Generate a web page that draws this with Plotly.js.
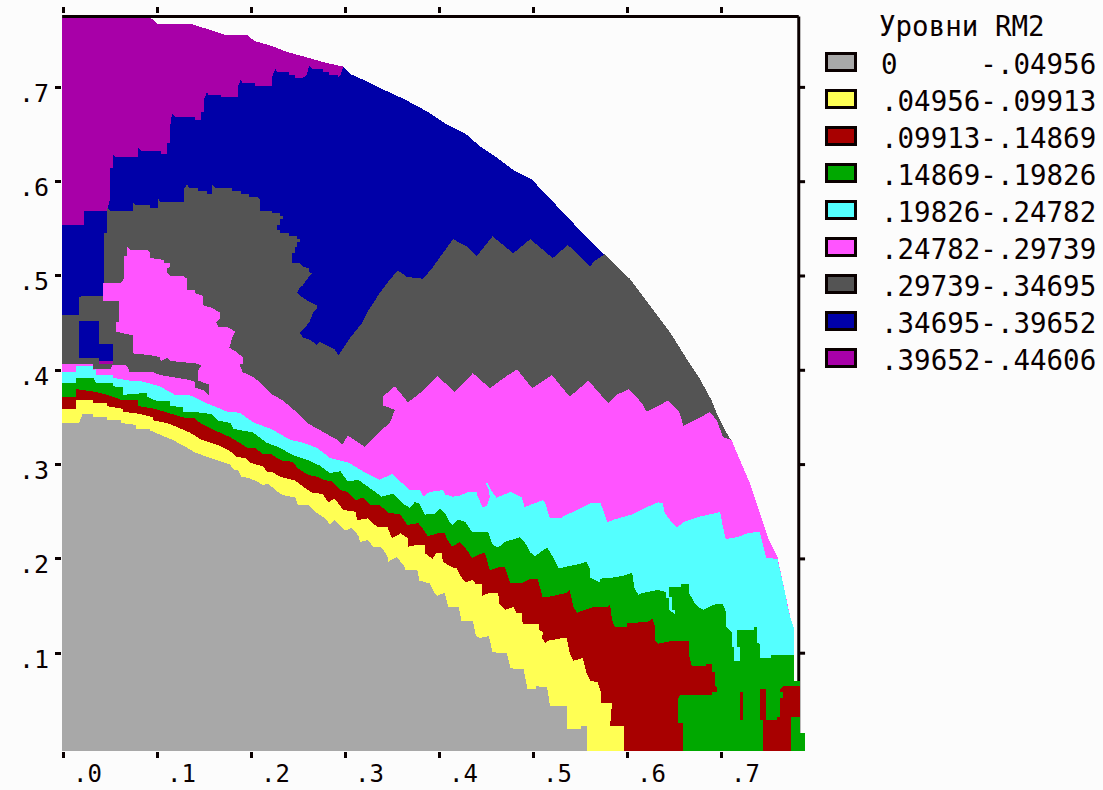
<!DOCTYPE html>
<html><head><meta charset="utf-8">
<script src="https://cdn.plot.ly/plotly-3.0.1.min.js"></script>
<style>html,body{margin:0;padding:0;background:#fcfcfc}
.js-fill{shape-rendering:crispEdges}
</style></head>
<body><div id="chart" style="width:1103px;height:790px"></div>
<script>
// Outer rim of the domain (x, y)
const rim = [[-.001,.774],[.093,.774],[.101,.767],[.137,.767],[.153,.762],[.171,.756],[.195,.756],[.204,.749],[.222,.744],[.237,.738],[.262,.731],[.280,.726],[.298,.722],[.306,.714],[.324,.706],[.340,.698],[.364,.687],[.388,.674],[.406,.662],[.428,.651],[.443,.638],[.461,.626],[.481,.611],[.499,.602],[.512,.588],[.526,.574],[.539,.560],[.556,.542],[.576,.523],[.603,.497],[.624,.469],[.646,.440],[.666,.408],[.678,.390],[.690,.368],[.696,.353],[.705,.335],[.712,.324],[.720,.305],[.730,.282],[.738,.259],[.745,.238],[.751,.220],[.760,.202],[.763,.188],[.766,.174],[.769,.160],[.771,.149],[.774,.137],[.778,.125],[.778,.090],[.778,.071],[.784,.071],[.784,.015],[.789,.015],[.789,-.004]];

// Level boundaries (x, y)
const blueEdge = [[-.001,.554],[.022,.554],[.022,.569],[.047,.569],[.050,.582],[.050,.615],[.053,.615],[.053,.629],[.056,.626],[.080,.626],[.080,.636],[.083,.633],[.104,.633],[.104,.629],[.111,.629],[.111,.641],[.114,.641],[.114,.659],[.116,.672],[.119,.669],[.140,.669],[.140,.665],[.147,.665],[.147,.674],[.150,.674],[.150,.687],[.153,.695],[.155,.692],[.168,.692],[.168,.690],[.186,.690],[.186,.701],[.189,.708],[.191,.705],[.204,.705],[.204,.701],[.222,.701],[.222,.710],[.226,.720],[.228,.716],[.240,.716],[.240,.713],[.247,.713],[.247,.710],[.255,.710],[.259,.713],[.262,.723],[.265,.720],[.277,.720],[.277,.716],[.283,.716],[.283,.713],[.292,.713],[.292,.710],[.295,.713],[.298,.720]];

const darkEdge = [[-.001,.459],[.017,.459],[.017,.477],[.020,.479],[.044,.479],[.044,.517],[.044,.546],[.047,.546],[.047,.572],[.050,.569],[.074,.569],[.074,.578],[.078,.575],[.093,.575],[.093,.572],[.101,.572],[.101,.582],[.104,.578],[.129,.578],[.129,.593],[.132,.597],[.134,.593],[.144,.593],[.144,.590],[.153,.590],[.153,.587],[.159,.587],[.159,.597],[.162,.593],[.180,.593],[.180,.590],[.189,.590],[.189,.587],[.198,.587],[.198,.584],[.207,.584],[.210,.581],[.210,.569],[.222,.569],[.222,.567],[.231,.567],[.231,.564],[.234,.564],[.234,.560],[.231,.560],[.231,.554],[.228,.554],[.228,.549],[.231,.549],[.231,.546],[.240,.546],[.240,.542],[.249,.542],[.249,.539],[.252,.539],[.252,.536],[.249,.536],[.249,.531],[.247,.531],[.247,.524],[.244,.524],[.244,.514],[.252,.514],[.255,.510],[.262,.508],[.262,.504],[.265,.503],[.260,.497],[.255,.490],[.252,.488],[.249,.482],[.255,.477],[.263,.472],[.270,.469],[.270,.465],[.266,.461],[.262,.451],[.257,.445],[.252,.440],[.255,.435],[.263,.432],[.270,.427],[.273,.430],[.281,.426],[.289,.422],[.293,.416],[.298,.424],[.305,.434],[.318,.450],[.324,.462],[.337,.482],[.346,.494],[.356,.506],[.366,.499],[.383,.497],[.394,.510],[.401,.520],[.415,.539],[.430,.531],[.440,.521],[.457,.542],[.479,.524],[.497,.539],[.521,.519],[.537,.533],[.561,.510],[.564,.515]];

const pinkEdge = [[-.001,.407],[.032,.407],[.032,.401],[.050,.401],[.053,.406],[.068,.405],[.071,.398],[.096,.398],[.103,.395],[.117,.393],[.133,.390],[.140,.388],[.140,.382],[.149,.379],[.155,.374],[.155,.385],[.144,.389],[.144,.400],[.147,.405],[.143,.407],[.114,.410],[.111,.413],[.104,.410],[.103,.414],[.093,.416],[.074,.418],[.074,.437],[.056,.441],[.056,.451],[.060,.451],[.060,.473],[.042,.473],[.042,.493],[.062,.493],[.065,.498],[.065,.521],[.068,.521],[.068,.531],[.071,.528],[.089,.528],[.093,.524],[.093,.519],[.107,.517],[.107,.514],[.114,.514],[.114,.510],[.111,.508],[.111,.503],[.115,.500],[.128,.500],[.132,.497],[.132,.485],[.140,.485],[.140,.482],[.149,.479],[.149,.469],[.159,.466],[.167,.461],[.167,.455],[.163,.451],[.165,.446],[.175,.446],[.183,.441],[.180,.435],[.177,.424],[.185,.419],[.191,.414],[.191,.407],[.188,.406],[.191,.398],[.202,.393],[.210,.387],[.223,.374],[.234,.368],[.249,.355],[.260,.344],[.277,.334],[.292,.326],[.297,.321],[.303,.331],[.316,.322],[.321,.319],[.330,.328],[.348,.345],[.353,.358],[.340,.363],[.340,.372],[.353,.383],[.367,.366],[.380,.376],[.398,.394],[.417,.377],[.436,.397],[.454,.381],[.472,.394],[.483,.401],[.499,.381],[.520,.395],[.539,.372],[.559,.389],[.580,.365],[.589,.374],[.602,.380],[.616,.365],[.621,.356],[.633,.362],[.644,.368],[.656,.355],[.660,.341],[.678,.350],[.688,.356],[.696,.346],[.702,.329],[.712,.326]];

const cyanEdge = [[-.001,.398],[.014,.398],[.014,.405],[.032,.405],[.032,.400],[.035,.401],[.035,.395],[.053,.395],[.053,.392],[.071,.389],[.085,.388],[.103,.383],[.119,.374],[.134,.374],[.153,.365],[.175,.356],[.188,.355],[.202,.345],[.223,.337],[.242,.326],[.252,.324],[.270,.318],[.284,.307],[.304,.302],[.324,.290],[.334,.286],[.337,.284],[.350,.290],[.361,.280],[.369,.273],[.380,.273],[.383,.266],[.390,.271],[.404,.273],[.407,.268],[.415,.266],[.422,.267],[.431,.271],[.440,.271],[.441,.267],[.446,.255],[.451,.256],[.454,.266],[.453,.273],[.450,.280],[.452,.280],[.456,.272],[.461,.265],[.476,.271],[.488,.265],[.491,.255],[.510,.262],[.513,.259],[.518,.243],[.529,.243],[.536,.247],[.543,.250],[.561,.259],[.572,.259],[.576,.247],[.579,.239],[.587,.242],[.605,.247],[.619,.254],[.633,.260],[.638,.259],[.640,.249],[.648,.238],[.653,.233],[.660,.239],[.678,.245],[.696,.249],[.699,.250],[.702,.234],[.705,.221],[.717,.223],[.728,.227],[.741,.229],[.745,.213],[.748,.201],[.760,.200]];

const greenEdge = [[-.001,.387],[.014,.387],[.014,.392],[.032,.392],[.035,.387],[.053,.387],[.053,.383],[.064,.382],[.064,.374],[.089,.376],[.089,.372],[.098,.368],[.114,.367],[.114,.362],[.128,.361],[.128,.356],[.149,.355],[.159,.353],[.164,.347],[.178,.344],[.181,.338],[.202,.334],[.217,.323],[.228,.319],[.245,.310],[.260,.305],[.273,.299],[.284,.291],[.295,.293],[.303,.282],[.314,.284],[.330,.273],[.339,.266],[.351,.269],[.361,.259],[.369,.254],[.374,.260],[.379,.259],[.385,.247],[.396,.248],[.401,.254],[.406,.249],[.410,.241],[.414,.236],[.420,.242],[.428,.239],[.435,.229],[.452,.229],[.457,.215],[.463,.212],[.470,.218],[.486,.223],[.491,.218],[.497,.207],[.502,.203],[.515,.212],[.523,.199],[.527,.190],[.547,.194],[.557,.197],[.561,.188],[.561,.180],[.571,.175],[.571,.179],[.584,.180],[.595,.182],[.605,.185],[.605,.188],[.608,.169],[.612,.162],[.617,.164],[.633,.167],[.641,.165],[.641,.159],[.645,.159],[.645,.146],[.651,.141],[.651,.146],[.648,.146],[.648,.160],[.645,.160],[.645,.170],[.657,.170],[.657,.173],[.666,.173],[.666,.164],[.672,.153],[.676,.149],[.681,.146],[.694,.152],[.702,.152],[.705,.144],[.705,.128],[.712,.122],[.712,.107],[.714,.107],[.714,.092],[.720,.092],[.720,.107],[.717,.107],[.717,.125],[.735,.125],[.735,.128],[.738,.128],[.738,.111],[.741,.110],[.741,.095],[.753,.095],[.753,.098],[.778,.098]];

const redEdge = [[-.001,.372],[.014,.372],[.014,.380],[.035,.377],[.047,.374],[.064,.368],[.080,.368],[.080,.362],[.098,.359],[.111,.355],[.128,.350],[.140,.349],[.146,.344],[.160,.337],[.178,.329],[.196,.318],[.204,.318],[.213,.311],[.222,.311],[.226,.308],[.234,.304],[.244,.303],[.250,.296],[.261,.289],[.271,.287],[.277,.284],[.286,.282],[.295,.273],[.303,.271],[.311,.262],[.319,.265],[.327,.257],[.337,.257],[.346,.249],[.359,.247],[.366,.236],[.378,.238],[.385,.229],[.388,.224],[.398,.227],[.406,.227],[.409,.220],[.414,.213],[.422,.218],[.430,.209],[.435,.201],[.446,.206],[.449,.206],[.454,.188],[.463,.191],[.470,.191],[.476,.174],[.488,.174],[.497,.179],[.505,.179],[.510,.160],[.518,.160],[.536,.164],[.539,.167],[.543,.149],[.547,.143],[.564,.149],[.579,.149],[.582,.152],[.584,.135],[.587,.128],[.600,.128],[.600,.132],[.622,.133],[.627,.137],[.630,.128],[.630,.113],[.633,.110],[.648,.113],[.666,.113],[.666,.098],[.669,.086],[.684,.086],[.684,.089],[.690,.089],[.690,.080],[.694,.080],[.694,.065],[.696,.064],[.696,.059],[.690,.059],[.690,.056],[.657,.056],[.654,.052],[.654,.026],[.660,.026],[.660,-.004]];

const redBlob = [[.745,-.004],[.745,.029],[.760,.029],[.760,.032],[.763,.032],[.763,.052],[.766,.052],[.766,.059],[.763,.059],[.763,.062],[.766,.065],[.784,.065],[.784,.032],[.774,.032],[.774,-.004]];
const redBarA = [[.720,.059],[.723,.059],[.723,.029],[.720,.029]];
const redBarB = [[.741,.062],[.748,.062],[.748,.029],[.741,.029]];

const yellowEdge = [[-.001,.359],[.014,.359],[.014,.368],[.032,.368],[.032,.365],[.047,.365],[.047,.362],[.064,.359],[.064,.356],[.080,.354],[.096,.350],[.096,.347],[.111,.344],[.124,.339],[.135,.334],[.146,.327],[.167,.320],[.178,.314],[.185,.308],[.194,.307],[.199,.302],[.213,.298],[.217,.292],[.223,.292],[.231,.287],[.239,.285],[.247,.283],[.255,.277],[.265,.270],[.276,.269],[.282,.260],[.289,.264],[.298,.252],[.311,.250],[.313,.241],[.324,.243],[.334,.234],[.345,.234],[.350,.222],[.359,.227],[.367,.222],[.367,.213],[.377,.215],[.385,.215],[.385,.206],[.393,.200],[.397,.206],[.403,.206],[.404,.197],[.414,.191],[.419,.190],[.422,.183],[.428,.175],[.436,.178],[.439,.173],[.446,.173],[.446,.161],[.454,.164],[.463,.164],[.464,.152],[.470,.146],[.479,.149],[.482,.143],[.488,.143],[.489,.131],[.506,.131],[.506,.125],[.511,.122],[.509,.117],[.513,.111],[.515,.113],[.531,.116],[.536,.116],[.539,.100],[.543,.092],[.553,.095],[.557,.079],[.561,.071],[.569,.069],[.572,.059],[.572,.047],[.584,.047],[.582,.023],[.597,.023],[.597,-.004]];

const greyEdge = [[-.001,.344],[.017,.344],[.021,.354],[.032,.354],[.032,.350],[.047,.350],[.047,.347],[.062,.347],[.062,.344],[.078,.342],[.078,.338],[.093,.338],[.093,.336],[.105,.331],[.117,.326],[.130,.319],[.140,.313],[.154,.308],[.178,.300],[.181,.295],[.186,.294],[.190,.287],[.197,.286],[.207,.282],[.213,.278],[.218,.280],[.226,.273],[.233,.268],[.247,.265],[.250,.257],[.261,.257],[.268,.250],[.279,.243],[.284,.236],[.289,.241],[.300,.230],[.307,.233],[.314,.225],[.316,.218],[.324,.220],[.330,.213],[.339,.212],[.345,.203],[.346,.197],[.355,.202],[.364,.191],[.364,.188],[.377,.188],[.379,.177],[.390,.174],[.395,.164],[.398,.161],[.406,.164],[.410,.149],[.421,.149],[.424,.134],[.436,.134],[.439,.119],[.443,.116],[.453,.118],[.457,.101],[.472,.100],[.476,.084],[.490,.083],[.494,.062],[.503,.062],[.503,.065],[.515,.064],[.518,.044],[.536,.044],[.536,.020],[.551,.020],[.551,.023],[.557,.023],[.557,-.004]];

const blueIsland = [[.017,.452],[.038,.452],[.038,.428],[.053,.428],[.053,.410],[.038,.410],[.038,.413],[.017,.413]];
const purpleSliver = [[.038,.410],[.053,.410],[.053,.407],[.038,.407]];

const xTicks = [0,.1,.2,.3,.4,.5,.6,.7];
const xTickText = ['.0','.1','.2','.3','.4','.5','.6','.7'];
const yTicks = [.1,.2,.3,.4,.5,.6,.7];
const yTickText = ['.1','.2','.3','.4','.5','.6','.7'];

const legendTitle = 'Уровни RM2';
const legendLabels = ['0\u00A0\u00A0\u00A0\u00A0\u00A0-.04956','.04956-.09913','.09913-.14869','.14869-.19826','.19826-.24782','.24782-.29739','.29739-.34695','.34695-.39652','.39652-.44606'];
const legendColors = ['#a8a8a8','#ffff54','#a80000','#00a800','#54ffff','#ff54ff','#545454','#0000a8','#a800a8'];

const INK = '#0a0000', BG = '#fcfcfc', FONT = '"DejaVu Sans Mono", monospace';
const W = 1103, H = 790, L = 62, R = 806, T = 14, B = 751;
const corner = [-.001,-.004];
const fromRim = y => rim.slice(rim.findIndex(p => p[1] <= y));
function area(name, color, polys){
  const x = [], y = [];
  polys.forEach((p,i) => { if(i){x.push(null);y.push(null);} p.forEach(q => {x.push(q[0]);y.push(q[1]);}); x.push(p[0][0]); y.push(p[0][1]); });
  return {type:'scatter',mode:'lines',name,x,y,fill:'toself',fillcolor:color,line:{width:0,color},hoverinfo:'name',showlegend:false};
}
const data = [
  area('.39652-.44606', legendColors[8], [[...rim, corner]]),
  area('.34695-.39652', legendColors[7], [[...blueEdge, ...fromRim(.722), corner]]),
  area('.29739-.34695', legendColors[6], [[...darkEdge, ...fromRim(.523), corner]]),
  area('.34695-.39652 (island)', legendColors[7], [blueIsland]),
  area('.39652-.44606 (island)', legendColors[8], [purpleSliver]),
  area('.24782-.29739', legendColors[5], [[...pinkEdge, ...fromRim(.324), corner]]),
  area('.19826-.24782', legendColors[4], [[...cyanEdge, ...fromRim(.188), corner]]),
  area('.14869-.19826', legendColors[3], [[...greenEdge, ...fromRim(.090), corner]]),
  area('.09913-.14869', legendColors[2], [[...redEdge, corner], redBlob, redBarA, redBarB]),
  area('.04956-.09913', legendColors[1], [[...yellowEdge, corner]]),
  area('0-.04956', legendColors[0], [[...greyEdge, corner]])
];

const px = v => (v-L)/(R-L), py = v => (B-v)/(B-T);
const FRAME_X = .7827, FRAME_Y = .7752, TICK_END = .7894;
const shapes = [
  {type:'line',layer:'below',xref:'x',yref:'y',x0:-.001,x1:FRAME_X,y0:FRAME_Y,y1:FRAME_Y,line:{color:INK,width:3}},
  {type:'line',layer:'below',xref:'x',yref:'y',x0:FRAME_X,x1:FRAME_X,y0:-.004,y1:FRAME_Y,line:{color:INK,width:3}},
  ...yTicks.map(v => ({type:'line',layer:'below',xref:'x',yref:'y',x0:FRAME_X,x1:TICK_END,y0:v,y1:v,line:{color:INK,width:3}})),
  ...legendColors.map((c,i) => ({type:'rect',xref:'paper',yref:'paper',x0:px(826.5),x1:px(855.5),y0:py(53.5+37*i),y1:py(70.5+37*i),fillcolor:c,line:{color:INK,width:3}}))
];
const annotations = [
  ...xTicks.map((v,i) => ({xref:'x',yref:'paper',x:v,y:0,xanchor:'center',yanchor:'middle',xshift:24,yshift:-23,text:xTickText[i],showarrow:false,font:{family:FONT,size:24,color:INK}})),
  ...yTicks.map((v,i) => ({xref:'paper',yref:'y',x:0,y:v,xanchor:'right',yanchor:'middle',xshift:-11,yshift:-6,text:yTickText[i],showarrow:false,font:{family:FONT,size:25,color:INK}})),
  {xref:'paper',yref:'paper',x:px(877),y:py(26),xanchor:'left',yanchor:'middle',text:legendTitle,showarrow:false,font:{family:FONT,size:27.5,color:INK}},
  ...legendLabels.map((t,i) => ({xref:'paper',yref:'paper',x:px(879),y:py(64+37*i),xanchor:'left',yanchor:'middle',text:t,showarrow:false,font:{family:FONT,size:27.5,color:INK}}))
];
const layout = {
  width:W,height:H,paper_bgcolor:BG,plot_bgcolor:BG,showlegend:false,
  margin:{l:L,r:W-R,t:T,b:H-B,pad:0},
  xaxis:{range:[-.0011,.7904],tickmode:'array',tickvals:xTicks,ticktext:xTickText,showticklabels:false,ticks:'outside',ticklen:6,tickwidth:3,tickcolor:INK,mirror:'ticks',showgrid:false,zeroline:false,showline:false},
  yaxis:{range:[-.0037,.7778],tickmode:'array',tickvals:yTicks,ticktext:yTickText,showticklabels:false,ticks:'outside',ticklen:6,tickwidth:3,tickcolor:INK,showgrid:false,zeroline:false,showline:false},
  shapes,annotations
};
Plotly.newPlot('chart',data,layout,{displayModeBar:false,staticPlot:true});
</script></body></html>
